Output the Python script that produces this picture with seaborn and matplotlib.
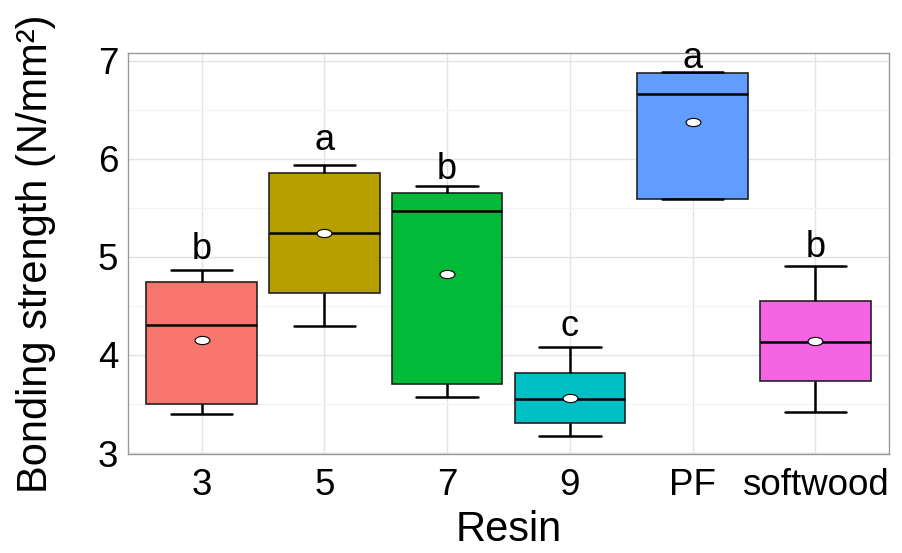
import numpy as np
import pandas as pd
import matplotlib
matplotlib.use("Agg")
import matplotlib.pyplot as plt
from matplotlib.path import Path
from matplotlib.ticker import MultipleLocator
import seaborn as sns

# ---- data ----
categories = ["3", "5", "7", "9", "PF", "softwood"]
# five-number summaries: lower whisker, Q1, median, Q3, upper whisker
lower = [3.40, 4.30, 3.57, 3.17, 5.59, 3.42]
q1 = [3.50, 4.63, 3.70, 3.31, 5.59, 3.73]
median = [4.31, 5.24, 5.47, 3.55, 6.66, 4.13]
q3 = [4.74, 5.86, 5.65, 3.82, 6.88, 4.55]
upper = [4.87, 5.94, 5.72, 4.08, 6.89, 4.91]
means = [4.15, 5.24, 4.83, 3.56, 6.38, 4.14]
letters = ["b", "a", "b", "c", "a", "b"]
letter_y = [4.98, 6.09, 5.79, 4.19, 6.93, 5.00]
colors = ["#F8766D", "#B79F00", "#00BA38", "#00BFC4", "#619CFF", "#F564E3"]

rows = []
for i, c in enumerate(categories):
    for v in (lower[i], q1[i], median[i], q3[i], upper[i]):
        rows.append({"Resin": c, "value": v})
df = pd.DataFrame(rows)

sns.set_theme(style="whitegrid")
plt.rcParams["font.family"] = ["Liberation Sans", "DejaVu Sans"]

fig = plt.figure(figsize=(9.02, 5.53), dpi=100)
ax = fig.add_axes([128 / 902, 1 - 454 / 553, (889 - 128) / 902, (454 - 53) / 553])

sns.boxplot(
    data=df, x="Resin", y="value", hue="Resin", order=categories,
    palette=dict(zip(categories, colors)), legend=False, ax=ax,
    whis=np.inf, width=0.9, linecolor="#222222", linewidth=1.2,
    saturation=1, capwidths=0.5,
    whiskerprops=dict(color="black", linewidth=1.8),
    capprops=dict(color="black", linewidth=1.8),
    medianprops=dict(color="black", linewidth=1.8, zorder=4),
)

# mean markers (white ellipse)
circ = Path.unit_circle()
ell = Path(circ.vertices * np.array([1.0, 0.55]), circ.codes)
pos = np.arange(len(categories))
sns.scatterplot(x=pos, y=means, marker=ell, s=115, color="white",
                edgecolor="black", linewidth=0.8, zorder=6, ax=ax)

for i, (lab, yy) in enumerate(zip(letters, letter_y)):
    ax.text(i, yy, lab, ha="center", va="baseline", fontsize=26, color="black", zorder=7)

ax.set_xlim(-0.6, 5.6)
ax.set_ylim(2.99, 7.08)
ax.yaxis.set_major_locator(MultipleLocator(1))
ax.yaxis.set_minor_locator(MultipleLocator(0.5))
ax.grid(True, which="major", color="#e3e3e3", linewidth=1.0)
ax.grid(True, which="minor", axis="y", color="#f3f3f3", linewidth=0.8)
ax.set_axisbelow(True)
for sp in ax.spines.values():
    sp.set_color("#999999")
    sp.set_linewidth(1.0)
ax.tick_params(axis="both", which="major", length=4, width=0.8, color="#888888",
               labelsize=26.5, labelcolor="black")
ax.tick_params(axis="x", which="major", pad=6)
ax.tick_params(axis="y", which="major", pad=3)
ax.tick_params(axis="both", which="minor", length=0)
ax.set_xlabel("Resin", fontsize=30, labelpad=5, color="black")
ax.set_ylabel("Bonding strength (N/mm²)", fontsize=30, labelpad=30, color="black")

fig.savefig("out.png", dpi=100)
